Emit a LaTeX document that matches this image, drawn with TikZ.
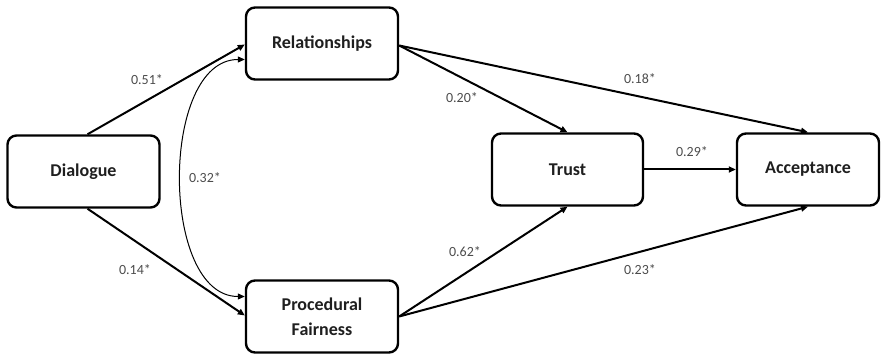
\documentclass[tikz,border=0pt]{standalone}
\usepackage{fontspec}
\setmainfont{Carlito}
\usetikzlibrary{arrows.meta}
\begin{document}
\begin{tikzpicture}[x=1pt,y=1pt,
  var/.style={draw=black, line width=2.4pt, rounded corners=9pt, fill=white,
    minimum width=152pt, minimum height=72pt, align=center,
    font=\fontsize{18}{25}\selectfont\bfseries, text=black!88},
  path/.style={line width=2pt, -{Triangle[length=7pt,width=6pt]}},
  corr/.style={line width=1pt, {Triangle[length=7pt,width=6pt]}-{Triangle[length=7pt,width=6pt]}},
  coef/.style={font=\fontsize{14}{16}\selectfont, text=black!70}]
\useasboundingbox (0,0) rectangle (881,355);
% latent constructs
\node[var] (dia) at (83.5,183.5) {Dialogue};
\node[var] (rel) at (322,311.5) {Relationships};
\node[var] (pf)  at (322,38.5) {Procedural\\Fairness};
\node[var, minimum width=151pt] (tru) at (567.5,185.5) {Trust};
\node[var, minimum width=142pt] (acc) at (808,185.5) {Acceptance};
% structural paths
\draw[path] ([xshift=4pt]dia.north) -- ([yshift=-1pt]rel.west);
\draw[path] ([xshift=4pt]dia.south) -- ([yshift=1pt]pf.west);
\draw[corr] ([yshift=-16pt]rel.west) .. controls +(-85,0) and +(-85,0) .. ([yshift=20pt]pf.west);
\draw[path] ([yshift=-2pt]rel.east) -- (tru.north);
\draw[path] ([yshift=-2pt]rel.east) -- (acc.north);
\draw[path] (tru.east) -- (acc.west);
\draw[path] (pf.east) -- (tru.south);
\draw[path] (pf.east) -- (acc.south);
% path coefficients
\node[coef] (c1) at (147,275) {0.51*};
\node[coef] (c2) at (135,85) {0.14*};
\node[coef] (c3) at (205,177) {0.32*};
\node[coef] (c4) at (462,257) {0.20*};
\node[coef] (c5) at (640,276) {0.18*};
\node[coef] (c6) at (692,203) {0.29*};
\node[coef] (c7) at (465,103) {0.62*};
\node[coef] (c8) at (640,85) {0.23*};
\end{tikzpicture}
\end{document}
